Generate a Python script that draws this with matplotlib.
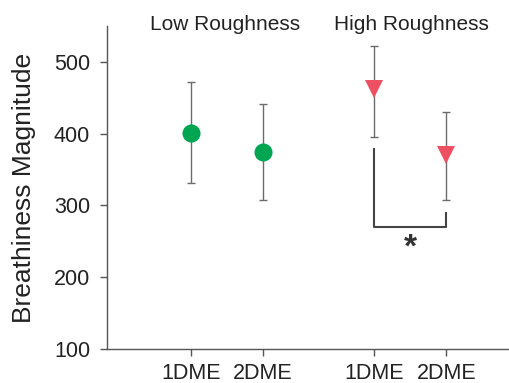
import matplotlib
matplotlib.use("Agg")
import matplotlib.pyplot as plt

plt.rcParams['font.family'] = ['Liberation Sans', 'DejaVu Sans']

categories = ["1DME", "2DME", "1DME", "2DME"]
positions = [1, 2, 3.55, 4.55]
low_means = [401, 375]
low_upper = [472, 441]
low_lower = [332, 307]
high_means = [462, 371]
high_upper = [522, 431]
high_lower = [396, 307]
group_titles = ["Low Roughness", "High Roughness"]
yticks = [100, 200, 300, 400, 500]

fig = plt.figure(figsize=(5.09, 3.83), dpi=100)
ax = fig.add_axes([0.210, 0.0888, 0.79, 0.843])

green = "#00A551"
red = "#EC5062"
errc = "#6b6b6b"

def draw(xs, means, up, lo, color, marker, ms):
    yerr = [[m - l for m, l in zip(means, lo)], [u - m for m, u in zip(means, up)]]
    ax.errorbar(xs, means, yerr=yerr, fmt='none', ecolor=errc, elinewidth=1.0,
                capsize=3, capthick=1.0, zorder=2)
    ax.plot(xs, means, linestyle='none', marker=marker, color=color, ms=ms,
            markeredgewidth=0, zorder=3)

draw(positions[:2], low_means, low_upper, low_lower, green, 'o', 13)
draw(positions[2:], high_means, high_upper, high_lower, red, 'v', 13.5)

# significance bracket
ax.plot([positions[2], positions[2], positions[3], positions[3]],
        [379, 270, 270, 289], color="#444444", lw=1.5, zorder=2)
ax.text((positions[2] + positions[3]) / 2, 240, "*", ha='center', va='center',
        fontsize=24, color="#333333", fontweight='bold')

ax.set_xlim(-0.167, 5.42)
ax.set_ylim(100, 550)
ax.set_xticks(positions)
ax.set_xticklabels(categories)
ax.set_yticks(yticks)
for s in ['top', 'right']:
    ax.spines[s].set_visible(False)
for s in ['left', 'bottom']:
    ax.spines[s].set_color("#555555")
    ax.spines[s].set_linewidth(1.0)
ax.tick_params(axis='both', colors="#555555", labelcolor="#222222", length=5,
               width=1.0, labelsize=15.5)
ax.tick_params(axis='y', pad=7)
ax.tick_params(axis='x', pad=5)
ax.set_ylabel("Breathiness Magnitude", fontsize=19, color="#222222", labelpad=13)

fig.text(225 / 509, 1 - 24 / 383, group_titles[0], ha='center', va='center',
         fontsize=15, color="#222222")
fig.text(411 / 509, 1 - 24 / 383, group_titles[1], ha='center', va='center',
         fontsize=15, color="#222222")

fig.savefig("out.png", dpi=100)
